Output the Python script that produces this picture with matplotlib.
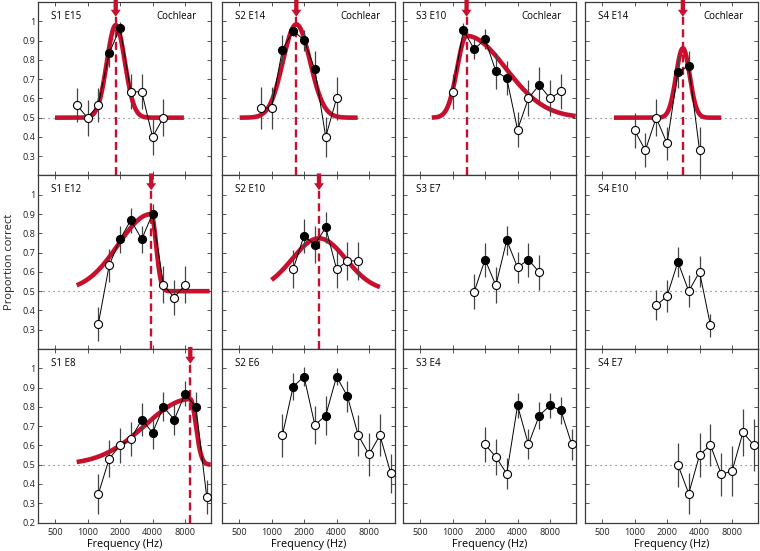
import numpy as np
import matplotlib
matplotlib.use("Agg")
import matplotlib.pyplot as plt
from matplotlib.ticker import FixedLocator, FixedFormatter, NullLocator

plt.rcParams['font.family'] = ['Open Sans', 'DejaVu Sans']

RED = '#c8102e'

# ---------------- data ----------------
# frequency (Hz), proportion correct, error-bar half-length, filled (significant) flag
s1e15_freq = [794, 1000, 1260, 1587, 2000, 2520, 3175, 4000, 5040]
s1e15_pc = [0.566, 0.50, 0.566, 0.834, 0.966, 0.634, 0.634, 0.40, 0.50]
s1e15_err = [0.09, 0.093, 0.09, 0.07, 0.03, 0.09, 0.09, 0.094, 0.095]
s1e15_fill = [0, 0, 0, 1, 1, 0, 0, 0, 0]

s1e12_freq = [1260, 1587, 2000, 2520, 3175, 4000, 5040, 6350, 8000]
s1e12_pc = [0.331, 0.634, 0.769, 0.869, 0.769, 0.902, 0.533, 0.467, 0.533]
s1e12_err = [0.088, 0.085, 0.07, 0.065, 0.07, 0.05, 0.095, 0.09, 0.095]
s1e12_fill = [0, 0, 1, 1, 1, 1, 0, 0, 0]

s1e8_freq = [1260, 1587, 2000, 2520, 3175, 4000, 5040, 6350, 8000, 10080, 12700]
s1e8_pc = [0.348, 0.531, 0.60, 0.633, 0.734, 0.666, 0.80, 0.734, 0.867, 0.80, 0.332]
s1e8_err = [0.105, 0.095, 0.09, 0.09, 0.086, 0.085, 0.075, 0.08, 0.065, 0.075, 0.086]
s1e8_fill = [0, 0, 0, 0, 1, 1, 1, 1, 1, 1, 0]

s2e14_freq = [794, 1000, 1260, 1587, 2000, 2520, 3175, 4000]
s2e14_pc = [0.55, 0.55, 0.852, 0.952, 0.902, 0.75, 0.40, 0.60]
s2e14_err = [0.11, 0.11, 0.078, 0.03, 0.055, 0.097, 0.105, 0.11]
s2e14_fill = [0, 0, 1, 1, 1, 1, 0, 0]

s2e10_freq = [1587, 2000, 2520, 3175, 4000, 5040, 6350]
s2e10_pc = [0.614, 0.788, 0.741, 0.831, 0.614, 0.657, 0.657]
s2e10_err = [0.10, 0.088, 0.097, 0.08, 0.10, 0.10, 0.10]
s2e10_fill = [0, 1, 1, 1, 0, 0, 0]

s2e6_freq = [1260, 1587, 2000, 2520, 3175, 4000, 5040, 6350, 8000, 10080, 12700]
s2e6_pc = [0.652, 0.905, 0.957, 0.705, 0.755, 0.957, 0.855, 0.652, 0.553, 0.653, 0.455]
s2e6_err = [0.11, 0.07, 0.05, 0.10, 0.10, 0.045, 0.08, 0.105, 0.11, 0.11, 0.10]
s2e6_fill = [0, 1, 1, 0, 1, 1, 1, 0, 0, 0, 0]

s3e10_freq = [1000, 1260, 1587, 2000, 2520, 3175, 4000, 5040, 6350, 8000, 10080]
s3e10_pc = [0.634, 0.955, 0.855, 0.907, 0.74, 0.705, 0.438, 0.60, 0.67, 0.60, 0.636]
s3e10_err = [0.09, 0.035, 0.053, 0.053, 0.093, 0.09, 0.092, 0.093, 0.092, 0.093, 0.09]
s3e10_fill = [0, 1, 1, 1, 1, 1, 0, 0, 1, 0, 0]

s3e7_freq = [1587, 2000, 2520, 3175, 4000, 5040, 6350]
s3e7_pc = [0.497, 0.664, 0.53, 0.764, 0.623, 0.664, 0.598]
s3e7_err = [0.09, 0.088, 0.093, 0.076, 0.08, 0.088, 0.09]
s3e7_fill = [0, 1, 0, 1, 0, 1, 0]

s3e4_freq = [2000, 2520, 3175, 4000, 5040, 6350, 8000, 10080, 12700]
s3e4_pc = [0.605, 0.54, 0.453, 0.807, 0.605, 0.755, 0.807, 0.781, 0.605]
s3e4_err = [0.09, 0.093, 0.08, 0.066, 0.078, 0.07, 0.066, 0.07, 0.08]
s3e4_fill = [0, 0, 0, 1, 0, 1, 1, 1, 0]

s4e14_freq = [1000, 1260, 1587, 2000, 2520, 3175, 4000]
s4e14_pc = [0.434, 0.331, 0.50, 0.366, 0.736, 0.769, 0.331]
s4e14_err = [0.092, 0.088, 0.095, 0.086, 0.084, 0.078, 0.12]
s4e14_fill = [0, 0, 0, 0, 1, 1, 0]

s4e10_freq = [1587, 2000, 2520, 3175, 4000, 5040]
s4e10_pc = [0.426, 0.474, 0.652, 0.50, 0.60, 0.324]
s4e10_err = [0.078, 0.083, 0.078, 0.082, 0.08, 0.06]
s4e10_fill = [0, 0, 1, 0, 0, 0]

s4e7_freq = [2520, 3175, 4000, 5040, 6350, 8000, 10080, 12700]
s4e7_pc = [0.50, 0.35, 0.55, 0.602, 0.45, 0.467, 0.667, 0.602]
s4e7_err = [0.114, 0.108, 0.115, 0.11, 0.112, 0.13, 0.123, 0.133]
s4e7_fill = [0, 0, 0, 0, 0, 0, 0, 0]

# fitted tuning curves: centre (Hz), peak, left width (oct), right width (oct), start (Hz), end (Hz)
s1e15_fit = [1824, 0.98, 0.27, 0.28, 500, 7800]
s1e12_fit = [3886, 0.90, 1.01, 0.15, 794, 13500]
s1e8_fit = [8940, 0.84, 1.38, 0.17, 794, 13800]
s2e14_fit = [1697, 0.984, 0.41, 0.42, 507, 6270]
s2e10_fit = [2751, 0.774, 0.83, 0.83, 1000, 10080]
s3e10_fit = [1350, 0.924, 0.29, 1.2, 642, 13800]
s4e14_fit = [2803, 0.86, 0.21, 0.21, 645, 6350]

x_ticks = [500, 1000, 2000, 4000, 8000]
x_ticklabels = ['500', '1000', '2000', '4000', '8000']
y_ticks = [0.2, 0.3, 0.4, 0.5, 0.6, 0.7, 0.8, 0.9, 1.0]
y_ticklabels = ['0.2', '0.3', '0.4', '0.5', '0.6', '0.7', '0.8', '0.9', '1']

panels = [
    (0, 0, 'S1 E15', s1e15_freq, s1e15_pc, s1e15_err, s1e15_fill, s1e15_fit, True),
    (0, 1, 'S2 E14', s2e14_freq, s2e14_pc, s2e14_err, s2e14_fill, s2e14_fit, True),
    (0, 2, 'S3 E10', s3e10_freq, s3e10_pc, s3e10_err, s3e10_fill, s3e10_fit, True),
    (0, 3, 'S4 E14', s4e14_freq, s4e14_pc, s4e14_err, s4e14_fill, s4e14_fit, True),
    (1, 0, 'S1 E12', s1e12_freq, s1e12_pc, s1e12_err, s1e12_fill, s1e12_fit, False),
    (1, 1, 'S2 E10', s2e10_freq, s2e10_pc, s2e10_err, s2e10_fill, s2e10_fit, False),
    (1, 2, 'S3 E7', s3e7_freq, s3e7_pc, s3e7_err, s3e7_fill, None, False),
    (1, 3, 'S4 E10', s4e10_freq, s4e10_pc, s4e10_err, s4e10_fill, None, False),
    (2, 0, 'S1 E8', s1e8_freq, s1e8_pc, s1e8_err, s1e8_fill, s1e8_fit, False),
    (2, 1, 'S2 E6', s2e6_freq, s2e6_pc, s2e6_err, s2e6_fill, None, False),
    (2, 2, 'S3 E4', s3e4_freq, s3e4_pc, s3e4_err, s3e4_fill, None, False),
    (2, 3, 'S4 E7', s4e7_freq, s4e7_pc, s4e7_err, s4e7_fill, None, False),
]

# ---------------- layout ----------------
W, H = 760, 551
fig = plt.figure(figsize=(W / 100, H / 100), dpi=100)
fig.patch.set_facecolor('white')

col_left = [38, 222, 403, 585]
col_w = 173
row_top = [2, 175.5, 349]
row_h = 173.5

SPINE = '#3a3a3a'


def draw_fit(ax, p):
    fc, peak, sl, sr, f0, f1 = p
    f = np.geomspace(f0, f1, 500)
    d = np.log2(f / fc)
    s = np.where(d < 0, sl, sr)
    y = 0.5 + (peak - 0.5) * np.exp(-d ** 2 / (2 * s ** 2))
    ax.plot(f, y, color=RED, lw=3.3, solid_capstyle='butt', zorder=1)
    ax.axvline(fc, ymin=0, ymax=0.92, color=RED, lw=1.7, dashes=(3.4, 1.9), zorder=1.5)
    ax.annotate('', xy=(fc, 0.915), xycoords=('data', 'axes fraction'),
                xytext=(fc, 1.012), textcoords=('data', 'axes fraction'),
                arrowprops=dict(arrowstyle='simple,head_length=0.42,head_width=0.6,tail_width=0.26',
                                color=RED, shrinkA=0, shrinkB=0, mutation_scale=12, lw=0),
                annotation_clip=False, zorder=6)


for (r, c, name, fr, pc, er, fl, fit, coch) in panels:
    left = col_left[c] / W
    bottom = 1 - (row_top[r] + row_h) / H
    ax = fig.add_axes([left, bottom, col_w / W, row_h / H])
    ax.set_xscale('log')
    ax.set_xlim(348, 13900)
    ax.set_ylim(0.2, 1.1)

    ax.axhline(0.5, color='#666666', lw=0.8, ls=(0, (1, 3.5)), zorder=0.5)

    if fit is not None:
        draw_fit(ax, fit)

    fr = np.array(fr, dtype=float)
    pc = np.array(pc, dtype=float)
    er = np.array(er, dtype=float)
    fl = np.array(fl, dtype=bool)

    ax.errorbar(fr, pc, yerr=er, fmt='none', ecolor='#444444', elinewidth=0.9,
                capsize=0, zorder=2)
    ax.plot(fr, pc, color='black', lw=0.7, zorder=2.5)
    ax.plot(fr[~fl], pc[~fl], 'o', ms=5.8, mfc='white', mec='black', mew=0.8, zorder=3)
    ax.plot(fr[fl], pc[fl], 'o', ms=5.8, mfc='black', mec='black', mew=0.8, zorder=3)

    ax.text(0.078, 0.917, name, transform=ax.transAxes, fontsize=7, ha='left', va='center')
    if coch:
        ax.text(0.918, 0.917, 'Cochlear', transform=ax.transAxes, fontsize=7,
                ha='right', va='center')

    ax.xaxis.set_major_locator(FixedLocator(x_ticks))
    ax.xaxis.set_minor_locator(NullLocator())
    ax.yaxis.set_major_locator(FixedLocator(y_ticks))
    ax.yaxis.set_minor_locator(NullLocator())

    if r == 2:
        ax.xaxis.set_major_formatter(FixedFormatter(x_ticklabels))
        ax.set_xlabel('Frequency (Hz)', fontsize=7.8, labelpad=1.5)
    else:
        ax.xaxis.set_major_formatter(FixedFormatter([''] * len(x_ticks)))

    if c == 0:
        labs = list(y_ticklabels) if r == 2 else [''] + y_ticklabels[1:]
        ax.yaxis.set_major_formatter(FixedFormatter(labs))
    else:
        ax.yaxis.set_major_formatter(FixedFormatter([''] * len(y_ticks)))

    ax.tick_params(axis='both', which='both', direction='in', top=True, right=True,
                   length=3, width=0.6, colors=SPINE, labelcolor='#222222', labelsize=6.6)
    ax.tick_params(axis='y', pad=2)
    ax.tick_params(axis='x', pad=4)
    for sp in ax.spines.values():
        sp.set_color(SPINE)
        sp.set_linewidth(0.9)

fig.text(10 / W, 1 - 262 / H, 'Proportion correct', rotation=90, fontsize=8,
         ha='center', va='center', color='#222222')

fig.savefig('out.png', dpi=100, facecolor='white')
